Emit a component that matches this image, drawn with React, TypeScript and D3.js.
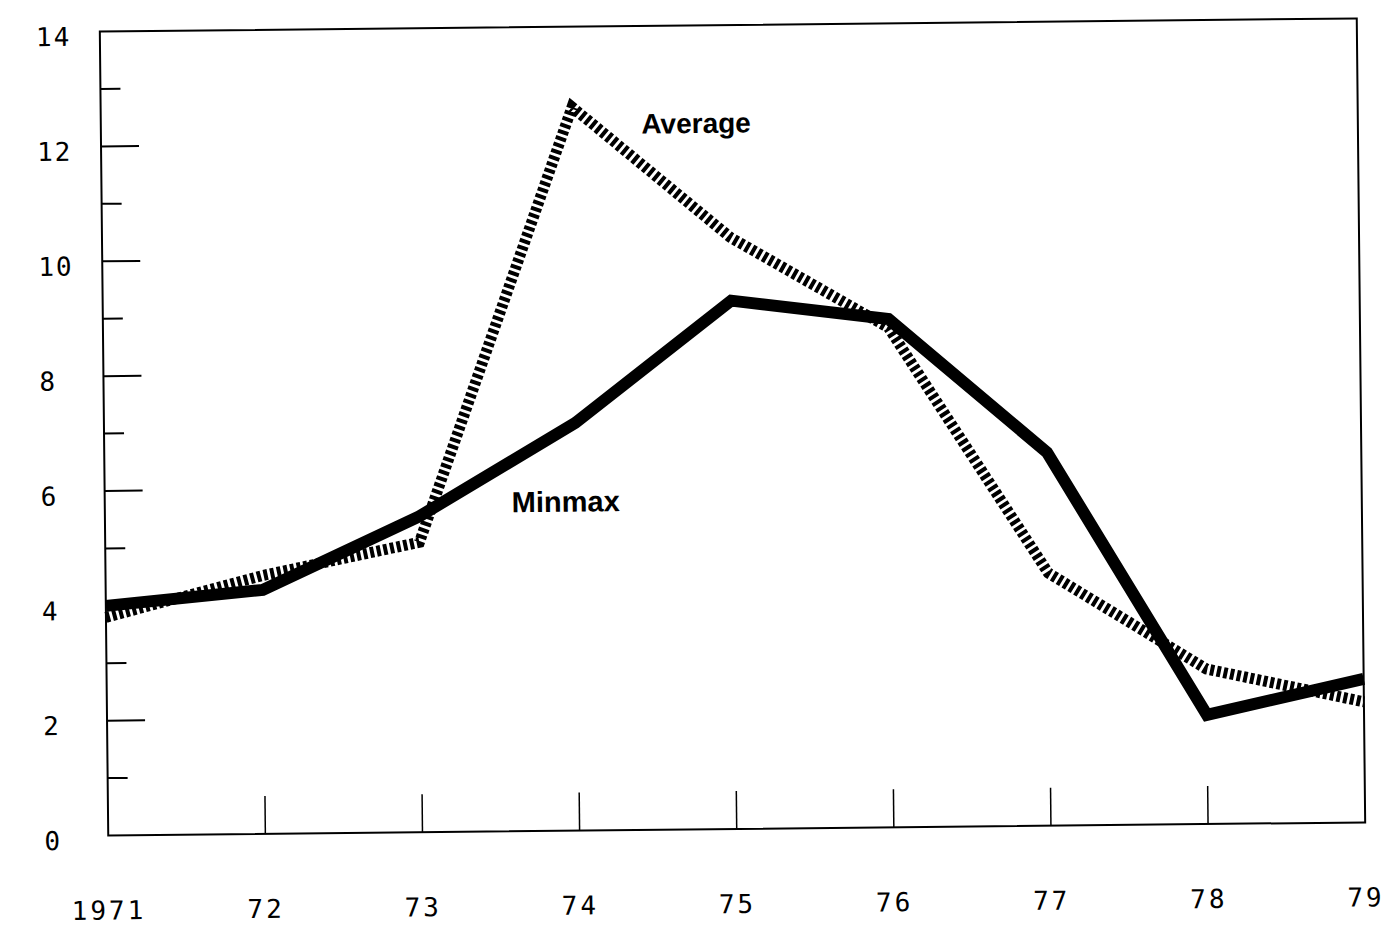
import React, { useEffect, useRef } from "react";
import { select, scaleLinear, line, range } from "d3";

// years along the bottom and their printed labels
const years = [1971, 1972, 1973, 1974, 1975, 1976, 1977, 1978, 1979];
const yearLabels = ["1971", "72", "73", "74", "75", "76", "77", "78", "79"];

// series values
const minmax = [4.0, 4.25, 5.5, 7.1, 9.2, 8.85, 6.5, 1.9, 2.5];
const average = [3.8, 4.5, 5.05, 12.6, 10.3, 8.7, 4.4, 2.7, 2.1];

const yLabelValues = [0, 2, 4, 6, 8, 10, 12, 14];
const yMinorValues = [1, 3, 5, 7, 9, 11, 13];
const xTickYears = [1972, 1973, 1974, 1975, 1976, 1977, 1978];

const W = 1387;
const H = 926;

export default function App() {
  const svgRef = useRef(null);
  const margin = { top: 25, right: 26, bottom: 97, left: 104 };

  useEffect(() => {
    const svg = select(svgRef.current);
    svg.selectAll("*").remove();

    const x = scaleLinear()
      .domain([1971, 1979])
      .range([margin.left, W - margin.right]);
    const y = scaleLinear()
      .domain([0, 14])
      .range([H - margin.bottom, margin.top]);

    // the scan is tilted a little, so everything sits in a rotated group
    const g = svg
      .append("g")
      .attr("transform", `rotate(-0.6, ${W / 2 + 38}, ${H / 2 - 36})`);

    // frame
    g.append("path")
      .attr(
        "d",
        `M${x(1971)},${y(14)}L${x(1979)},${y(14)}L${x(1979)},${y(0)}L${x(1971)},${y(0)}Z`
      )
      .attr("fill", "none")
      .attr("stroke", "#000")
      .attr("stroke-width", 2);

    // y ticks
    g.selectAll(".ymaj")
      .data(yLabelValues.filter((v) => v > 0 && v < 14))
      .enter()
      .append("line")
      .attr("x1", x(1971))
      .attr("x2", x(1971) + 38)
      .attr("y1", (d) => y(d))
      .attr("y2", (d) => y(d))
      .attr("stroke", "#000")
      .attr("stroke-width", 2);
    g.selectAll(".ymin")
      .data(yMinorValues)
      .enter()
      .append("line")
      .attr("x1", x(1971))
      .attr("x2", x(1971) + 20)
      .attr("y1", (d) => y(d))
      .attr("y2", (d) => y(d))
      .attr("stroke", "#000")
      .attr("stroke-width", 2);

    // x ticks
    g.selectAll(".xt")
      .data(xTickYears)
      .enter()
      .append("line")
      .attr("x1", (d) => x(d))
      .attr("x2", (d) => x(d))
      .attr("y1", y(0))
      .attr("y2", y(0) - 38)
      .attr("stroke", "#000")
      .attr("stroke-width", 1.5);

    const font = "'DejaVu Sans Mono', 'Liberation Mono', monospace";

    g.selectAll(".yl")
      .data(yLabelValues)
      .enter()
      .append("text")
      .attr("x", x(1971) - 64)
      .attr("y", (d) => y(d) + 14)
      .attr("font-family", font)
      .attr("font-size", 26)
      .attr("letter-spacing", 2)
      .text((d) => String(d));

    g.selectAll(".xl")
      .data(range(years.length))
      .enter()
      .append("text")
      .attr("x", (i) => x(years[i]))
      .attr("y", H - 13)
      .attr("text-anchor", "middle")
      .attr("font-family", font)
      .attr("font-size", 26)
      .attr("letter-spacing", 3)
      .text((i) => yearLabels[i]);

    const path = line<number>()
      .x((_, i) => x(years[i]))
      .y((d) => y(d));

    g.append("path")
      .attr("d", path(average))
      .attr("fill", "none")
      .attr("stroke", "#000")
      .attr("stroke-width", 11)
      .attr("stroke-dasharray", "4 2.8");

    g.append("path")
      .attr("d", path(minmax))
      .attr("fill", "none")
      .attr("stroke", "#000")
      .attr("stroke-width", 12)
      .attr("stroke-linejoin", "miter");

    const labelFont = "'Liberation Sans', Arial, sans-serif";
    g.append("text")
      .attr("x", x(1974.44))
      .attr("y", y(12.16) + 2)
      .attr("font-family", labelFont)
      .attr("font-weight", "bold")
      .attr("font-size", 28)
      .text("Average");
    g.append("text")
      .attr("x", x(1973.59))
      .attr("y", y(5.59) + 2)
      .attr("font-family", labelFont)
      .attr("font-weight", "bold")
      .attr("font-size", 29)
      .text("Minmax");
  }, []);

  return (
    <svg
      ref={svgRef}
      width={W}
      height={H}
      style={{ position: "absolute", left: 0, top: 0, background: "#fff" }}
    />
  );
}
